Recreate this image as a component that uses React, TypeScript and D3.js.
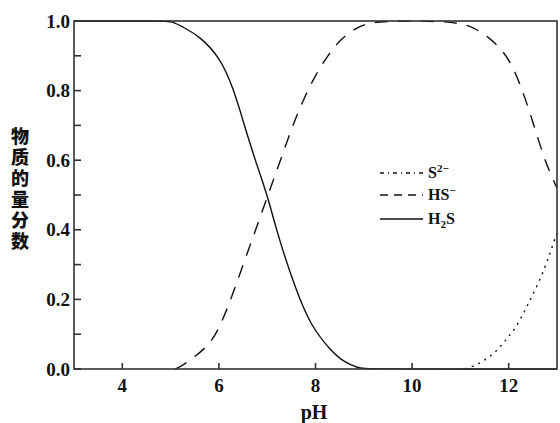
import React from "react";
import * as d3 from "d3";

const W = 560;
const H = 423;

const xTicks = [4, 6, 8, 10, 12];
const yTicks = [0, 0.2, 0.4, 0.6, 0.8, 1.0];
const yMinorTicks = [0.1, 0.3, 0.5, 0.7, 0.9];

const pH_H2S = [3, 4.9, 5.0, 5.3, 5.6, 6.0, 6.3, 6.6, 6.85, 7.0, 7.25, 7.6, 7.9, 8.3, 8.6, 8.9, 9.0, 13];
const frac_H2S = [1, 1, 1, 0.98, 0.955, 0.9, 0.81, 0.665, 0.56, 0.5, 0.37, 0.225, 0.125, 0.055, 0.018, 0.003, 0, 0];

const pH_HS = [5.1, 5.25, 5.5, 5.8, 6.0, 6.25, 6.5, 6.75, 7.0, 7.25, 7.5, 7.75, 8.0, 8.25, 8.5, 8.8, 9.1, 9.5, 10.9, 11.3, 11.6, 11.9, 12.1, 12.3, 12.5, 12.7, 12.85, 13.0];
const frac_HS = [0, 0.01, 0.035, 0.07, 0.115, 0.2, 0.3, 0.395, 0.494, 0.59, 0.69, 0.775, 0.845, 0.9, 0.945, 0.978, 0.995, 1, 1, 0.98, 0.952, 0.912, 0.865, 0.795, 0.71, 0.62, 0.565, 0.52];

const pH_S = [11.1, 11.3, 11.5, 11.7, 11.85, 12.0, 12.15, 12.3, 12.45, 12.6, 12.75, 12.85, 12.95, 13.0];
const frac_S = [0, 0.01, 0.025, 0.045, 0.068, 0.093, 0.12, 0.158, 0.2, 0.242, 0.292, 0.33, 0.372, 0.39];

const yLabel = "物质的量分数";

export default function App() {
  const x = d3.scaleLinear().domain([3, 13]).range([74, 557]);
  const y = d3.scaleLinear().domain([0, 1]).range([369, 21]);
  const line = d3
    .line<[number, number]>()
    .x((d) => x(d[0]))
    .y((d) => y(d[1]))
    .curve(d3.curveBasis);
  const zip = (a: number[], b: number[]) => a.map((v, i) => [v, b[i]] as [number, number]);

  const serif = { fontFamily: "'Times New Roman', 'Liberation Serif', 'DejaVu Serif', serif", fontWeight: 700 } as React.CSSProperties;
  const axisColor = "#333";

  return (
    <svg width={W} height={H} style={{ position: "absolute", left: 0, top: 0, background: "#fff" }}>
      <rect x={0} y={0} width={W} height={H} fill="#fff" />
      {/* curves */}
      <path d={line(zip(pH_H2S, frac_H2S)) || ""} fill="none" stroke="#111" strokeWidth={1.4} />
      <path d={line(zip(pH_HS, frac_HS)) || ""} fill="none" stroke="#111" strokeWidth={1.4} strokeDasharray="13,10" />
      <path d={line(zip(pH_S, frac_S)) || ""} fill="none" stroke="#111" strokeWidth={1.4} strokeDasharray="2,5" />

      {/* frame */}
      <rect x={x(3)} y={y(1)} width={x(13) - x(3)} height={y(0) - y(1)} fill="none" stroke={axisColor} strokeWidth={1.6} />

      {/* y ticks */}
      {yTicks.map((t) => (
        <g key={"y" + t}>
          <line x1={x(3)} x2={x(3) + 7} y1={y(t)} y2={y(t)} stroke={axisColor} strokeWidth={1.6} />
          <text x={70} y={y(t)} dy="0.35em" textAnchor="end" style={{ ...serif, fontSize: 19 }} fill="#111">
            {t.toFixed(1)}
          </text>
        </g>
      ))}
      {yMinorTicks.map((t) => (
        <line key={"ym" + t} x1={x(3)} x2={x(3) + 7} y1={y(t)} y2={y(t)} stroke={axisColor} strokeWidth={1.6} />
      ))}

      {/* x ticks */}
      {xTicks.map((t) => (
        <g key={"x" + t}>
          <line x1={x(t)} x2={x(t)} y1={y(0)} y2={y(0) - 6} stroke={axisColor} strokeWidth={1.6} />
          <text x={x(t)} y={392} textAnchor="middle" style={{ ...serif, fontSize: 19 }} fill="#111">
            {t}
          </text>
        </g>
      ))}

      {/* axis titles */}
      <text x={314} y={419} textAnchor="middle" style={{ ...serif, fontSize: 20 }} fill="#111">
        pH
      </text>
      <text
        x={20}
        y={127}
        style={{
          fontFamily: "'Noto Sans CJK SC', sans-serif",
          fontWeight: 900,
          fontSize: 18,
          writingMode: "vertical-rl",
          letterSpacing: "3px",
        }}
        fill="#111"
      >
        {yLabel}
      </text>

      {/* legend */}
      <g style={{ ...serif, fontSize: 16 }} fill="#111">
        <line x1={380} x2={423} y1={173} y2={173} stroke="#111" strokeWidth={1.3} strokeDasharray="4,4,1,4" />
        <text x={428} y={178}>
          S<tspan dy={-6} fontSize={11}>2−</tspan>
        </text>
        <line x1={380} x2={423} y1={195} y2={195} stroke="#111" strokeWidth={1.3} strokeDasharray="8,6" />
        <text x={428} y={200}>
          HS<tspan dy={-6} fontSize={11}>−</tspan>
        </text>
        <line x1={380} x2={423} y1={219} y2={219} stroke="#111" strokeWidth={1.3} />
        <text x={428} y={224}>
          H<tspan dy={4} fontSize={11}>2</tspan>
          <tspan dy={-4}>S</tspan>
        </text>
      </g>
    </svg>
  );
}
